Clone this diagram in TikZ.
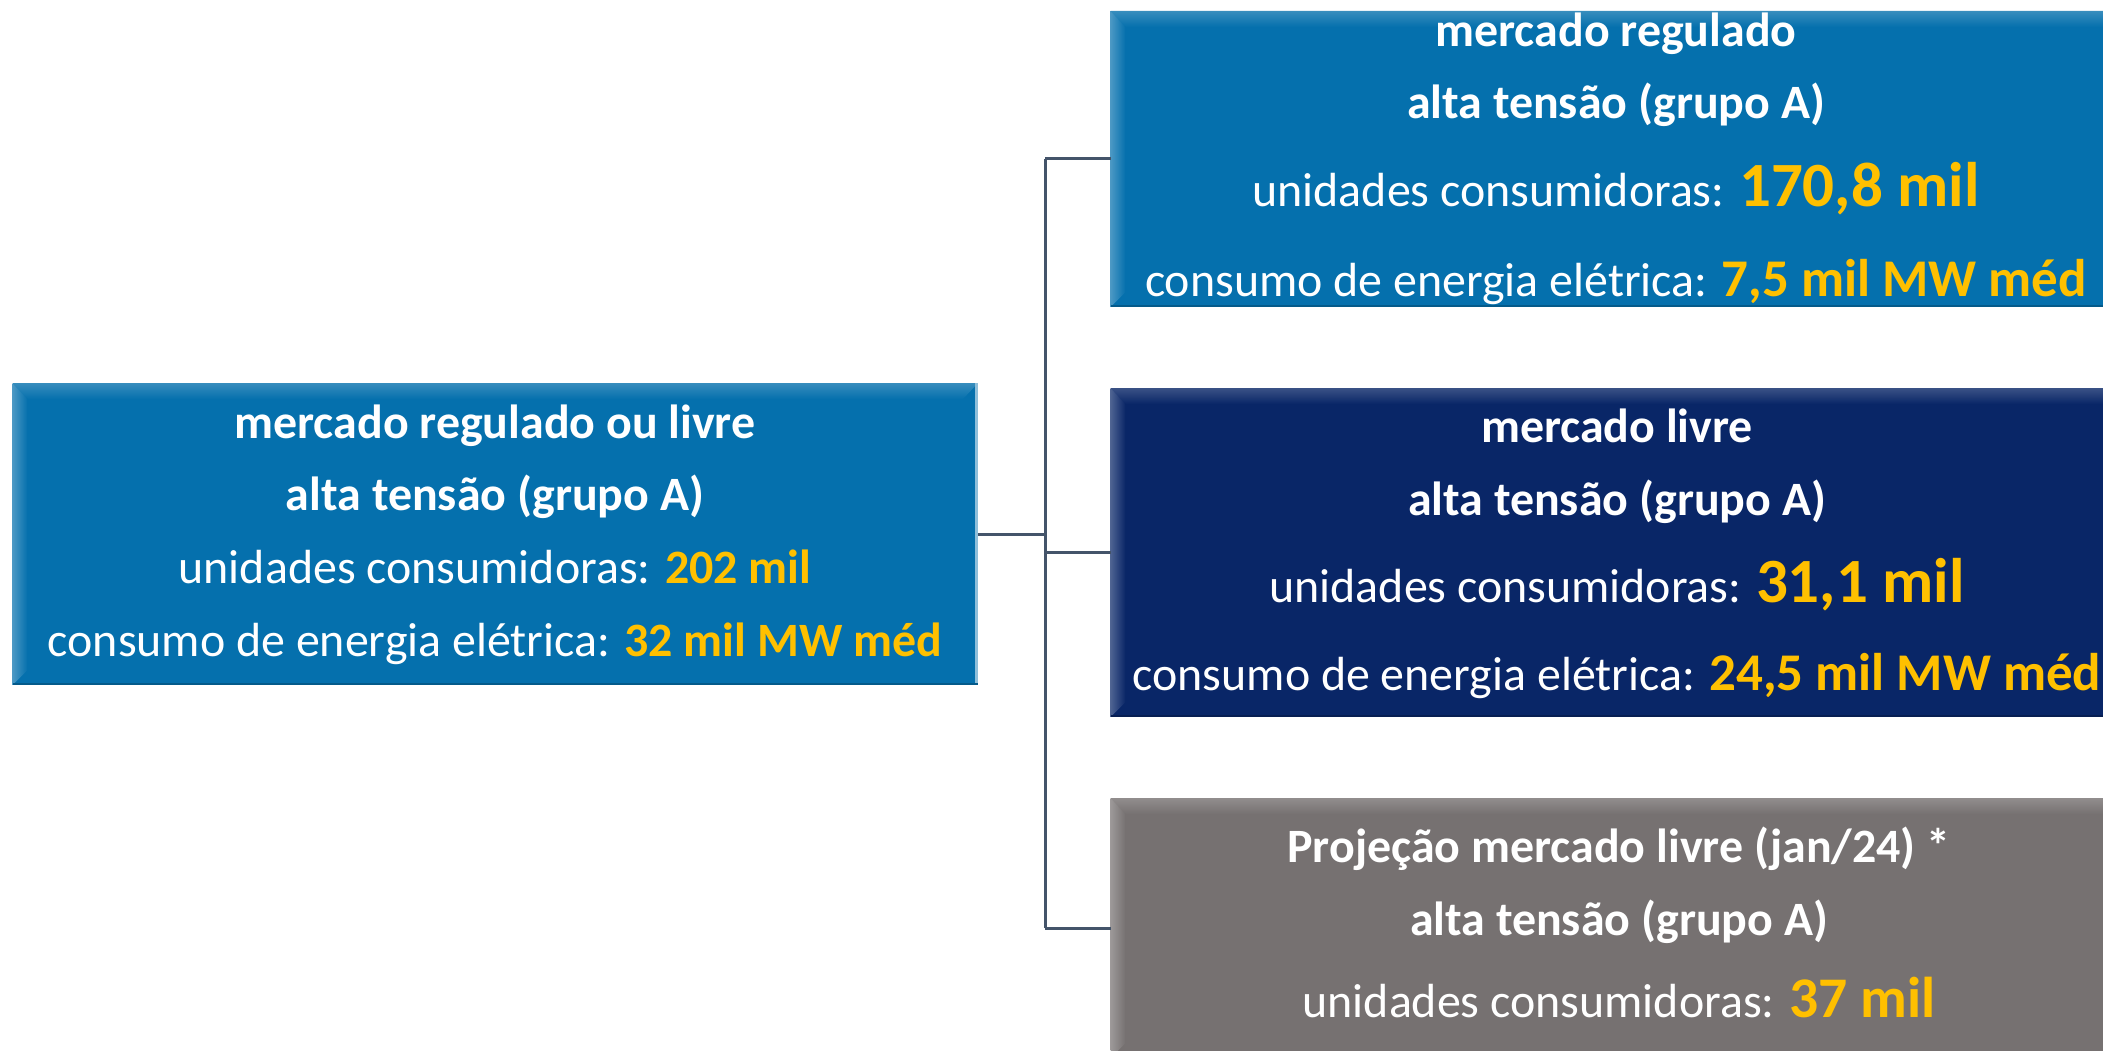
\documentclass[tikz,border=0pt]{standalone}
\usepackage{fontspec}
\setmainfont{Carlito}
\definecolor{boxblue}{RGB}{5,112,173}
\definecolor{boxnavy}{RGB}{9,38,103}
\definecolor{boxgray}{RGB}{118,113,113}
\definecolor{ylw}{RGB}{255,192,0}
\definecolor{connc}{RGB}{68,84,106}
\newcommand{\fsz}[1]{\fontsize{#1}{#1}\selectfont}
\newcommand{\yel}[2]{{\color{ylw}\bfseries\fsz{#1}#2}}
\tikzset{
  panel/.style={draw=none, fill=#1, anchor=north west, inner sep=0pt, outer sep=0pt,
    path picture={
      \path (path picture bounding box.north west) coordinate (pnw)
            (path picture bounding box.north east) coordinate (pne)
            (path picture bounding box.south west) coordinate (psw)
            (path picture bounding box.south east) coordinate (pse);
      \shade[left color=#1!72!white, right color=#1]
        (pnw) -- ([xshift=15pt,yshift=-15pt]pnw) -- ([xshift=15pt,yshift=15pt]psw) -- (psw) -- cycle;
      \shade[top color=#1!80!white, middle color=#1!45!white, bottom color=#1]
        (pnw) -- (pne) -- ([xshift=-15pt,yshift=-16pt]pne) -- ([xshift=15pt,yshift=-16pt]pnw) -- cycle;
      \fill[#1!45!white] ([xshift=-3pt]pne) rectangle (pse);
      \fill[#1!80!black] (psw) rectangle ([yshift=2pt]pse);
    }},
  txt/.style={anchor=base, inner sep=0pt, outer sep=0pt, text=white, font=\fsz{47.9}},
  conn/.style={draw=connc, line width=3pt},
}
\begin{document}
\begin{tikzpicture}[x=1pt, y=-1pt]
\useasboundingbox (0,0) rectangle (2103,1051);
\clip (0,0) rectangle (2103,1051);
\fill[white] (0,0) rectangle (2103,1051);
% boxes
\node[panel=boxblue, minimum width=965.5pt, minimum height=302pt] (L) at (12.5,383) {};
\node[panel=boxblue, minimum width=1011.5pt, minimum height=296pt] (T) at (1110.5,11) {};
\node[panel=boxnavy, minimum width=1011.5pt, minimum height=329pt] (M) at (1110.5,388) {};
\node[panel=boxgray, minimum width=1011.5pt, minimum height=260pt] (B) at (1110.5,798) {};
% connectors
\coordinate (j) at (1045,534);
\draw[conn] (L.east) -- (L.east -| j);
\draw[conn] (T.west -| j) -- (B.west -| j);
\draw[conn] (T.west -| j) -- (T.west);
\draw[conn] (M.west -| j) -- (M.west);
\draw[conn] (B.west -| j) -- (B.west);
% left box text
\node[txt] (l1) at (495,438) {\bfseries mercado regulado ou livre};
\node[txt] (l2) at (495,510) {\bfseries alta tensão (grupo A)};
\node[txt] (l3) at (495,583) {unidades consumidoras: \yel{47.9}{202 mil}};
\node[txt] (l4) at (495,656) {consumo de energia elétrica: \yel{47.9}{32 mil MW méd}};
% top box text
\node[txt] (t1) at (1616,47) {\bfseries mercado regulado};
\node[txt] (t2) at (1616,119) {\bfseries alta tensão (grupo A)};
\node[txt] (t3) at (1616,207) {unidades consumidoras: \yel{63}{170,8 mil}};
\node[txt] (t4) at (1616,296) {consumo de energia elétrica: \yel{53}{7,5 mil MW méd}};
% middle box text
\node[txt] (m1) at (1617,442) {\bfseries mercado livre};
\node[txt] (m2) at (1617,515) {\bfseries alta tensão (grupo A)};
\node[txt] (m3) at (1617,602) {unidades consumidoras: \yel{63}{31,1 mil}};
\node[txt] (m4) at (1617,690) {consumo de energia elétrica: \yel{53}{24,5 mil MW méd}};
% bottom box text
\node[txt] (b1) at (1619,862) {\bfseries Projeção mercado livre (jan/24) *};
\node[txt] (b2) at (1619,935) {\bfseries alta tensão (grupo A)};
\node[txt] (b3) at (1619,1017) {unidades consumidoras: \yel{57.5}{37 mil}};
\end{tikzpicture}
\end{document}
